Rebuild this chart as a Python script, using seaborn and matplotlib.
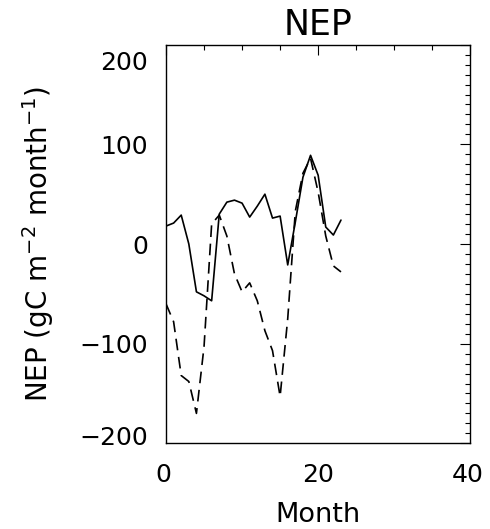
import numpy as np
import pandas as pd
import matplotlib
matplotlib.use("Agg")
import matplotlib.pyplot as plt
import matplotlib.transforms as mtransforms
from matplotlib.ticker import MultipleLocator
import seaborn as sns

# ---- data ----
months = list(range(24))
nep_solid = [18, 21, 29, 0, -48, -52, -57, 30, 42, 44, 41, 27,
             38, 50, 26, 28, -21, 22, 67, 89, 69, 17, 9, 24]
nep_dashed = [-60, -78, -132, -138, -170, -103, 20, 29, 8, -30, -48, -39,
              -57, -87, -107, -153, -75, 33, 71, 86, 52, 8, -22, -28]
series_names = ["solid", "dashed"]
title_text = "NEP"
xlabel_text = "Month"
ylabel_text = r"NEP (gC m$^{-2}$ month$^{-1}$)"
xticks = [0, 20, 40]
yticks = [-200, -100, 0, 100, 200]

df = pd.DataFrame({
    "Month": months * 2,
    "NEP": nep_solid + nep_dashed,
    "series": [series_names[0]] * len(months) + [series_names[1]] * len(months),
})

sns.set_style("white")
plt.rcParams["font.family"] = ["DejaVu Sans"]
plt.rcParams.update({"text.color": "black", "axes.labelcolor": "black",
                     "xtick.color": "black", "ytick.color": "black",
                     "axes.edgecolor": "black"})

fig = plt.figure(figsize=(4.9, 5.29), dpi=100)
ax = fig.add_axes([166 / 490, 1 - 443.3 / 529, 304.3 / 490, 398.6 / 529])

sns.lineplot(data=df, x="Month", y="NEP", style="series",
             dashes={"solid": "", "dashed": (7, 4)},
             color="black", linewidth=1.2, legend=False, ax=ax,
             estimator=None, sort=False)

ax.set_xlim(0, 40)
ax.set_ylim(-200, 200)
ax.set_xticks(xticks)
ax.set_yticks(yticks)
ax.xaxis.set_minor_locator(MultipleLocator(5))
ax.yaxis.set_minor_locator(MultipleLocator(10))
ax.tick_params(axis="both", which="both", direction="in", top=True, right=True,
               color="black", width=0.8)
ax.tick_params(axis="both", which="major", length=7, labelsize=18)
ax.tick_params(axis="both", which="minor", length=3.5)
ax.tick_params(axis="y", which="major", pad=13)
ax.tick_params(axis="x", which="major", pad=14)

for sp in ax.spines.values():
    sp.set_color("black")
    sp.set_linewidth(1.0)

ax.set_title(title_text, fontsize=25, pad=7)
ax.set_xlabel(xlabel_text, fontsize=19.5)
ax.set_ylabel(ylabel_text, fontsize=20)
ax.xaxis.set_label_coords(0.5, -0.147)
ax.yaxis.set_label_coords(-0.36, 0.5)

# IDL-style nudging of the end tick labels
ylabs = ax.get_yticklabels()
ylabs[-1].set_transform(ylabs[-1].get_transform() + mtransforms.Affine2D().translate(0, -16))
ylabs[0].set_transform(ylabs[0].get_transform() + mtransforms.Affine2D().translate(0, 8))
xlabs = ax.get_xticklabels()
xlabs[0].set_transform(xlabs[0].get_transform() + mtransforms.Affine2D().translate(-3, 0))
xlabs[-1].set_transform(xlabs[-1].get_transform() + mtransforms.Affine2D().translate(-3, 0))

fig.savefig("out.png", dpi=100, facecolor="white")
